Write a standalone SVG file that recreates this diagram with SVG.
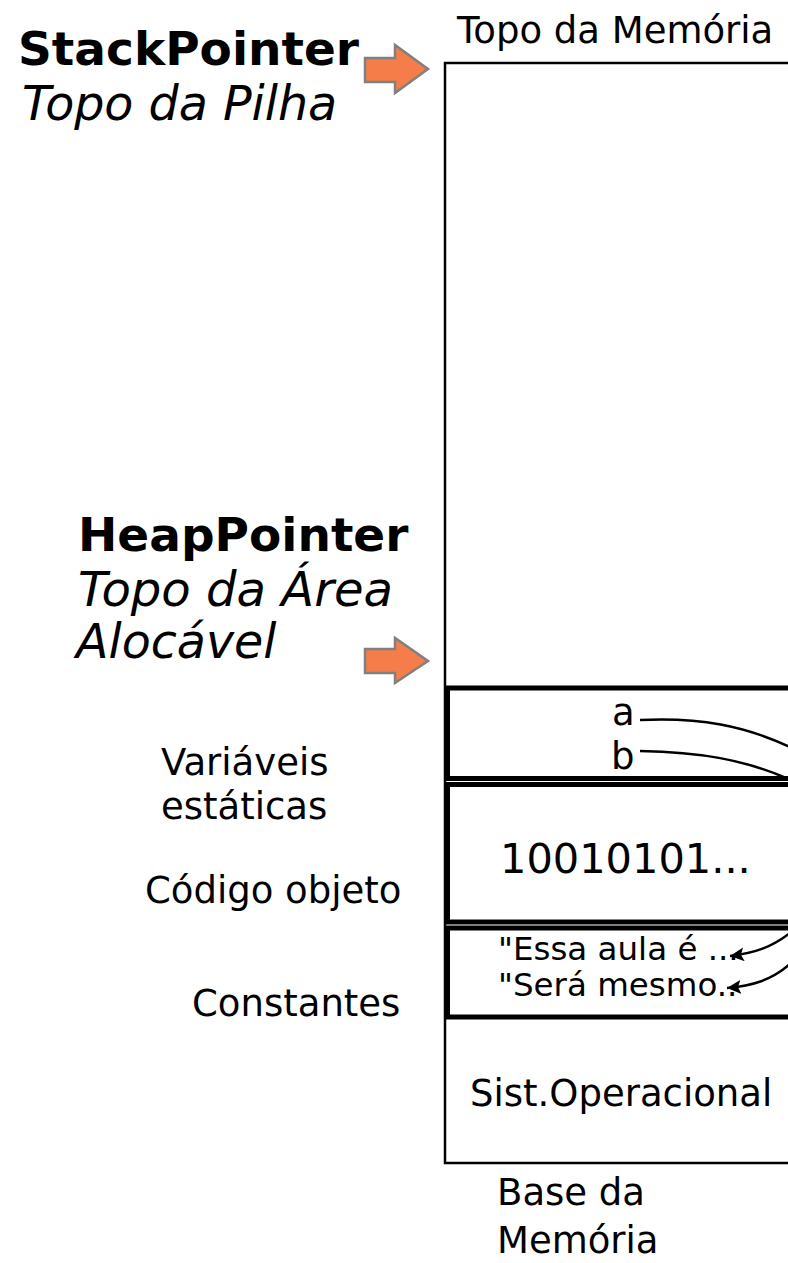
<svg xmlns="http://www.w3.org/2000/svg" width="788" height="1263" viewBox="0 0 788 1263">
<defs>
<style>
text{font-family:"DejaVu Sans","Verdana",sans-serif;fill:#000}
.t36{font-size:37px}
.bold{font-size:47px;font-weight:bold}
.ital{font-size:47.5px;font-style:italic}
.small{font-size:32.5px}
.box{fill:none;stroke:#000;stroke-width:5}
.outer{fill:#fff;stroke:#000;stroke-width:2.5}
.ptr{fill:#F47D4A;stroke:#808080;stroke-width:2.5;stroke-linejoin:miter}
.conn{fill:none;stroke:#000;stroke-width:2.5}
</style>
<marker id="ah" markerUnits="userSpaceOnUse" markerWidth="16" markerHeight="14" refX="14" refY="7" orient="auto">
<path d="M0,0 L14,7 L0,14 L3,7 Z" fill="#000"/>
</marker>
</defs>
<rect width="788" height="1263" fill="#fff"/>

<g id="memory">
<rect class="outer" x="445" y="63" width="400" height="1100"/>
</g>
<g id="static-vars">
<rect class="box" x="447.5" y="688" width="400" height="90.5"/>
<text class="t36" x="612" y="725">a</text>
<text class="t36" x="611" y="769">b</text>
</g>
<g id="object-code">
<rect class="box" x="447.5" y="784.5" width="400" height="137.5"/>
<text x="500" y="873" style="font-size:41.5px">10010101...</text>
</g>
<g id="constants">
<rect class="box" x="447.5" y="928" width="400" height="89"/>
<text class="small" x="498" y="960">"Essa aula é ...</text>
<text class="small" x="498" y="996">"Será mesmo..</text>
</g>
<g id="os">
<text class="t36" x="470" y="1106">Sist.Operacional</text>
</g>

<g id="labels">
<text class="t36" x="457" y="43">Topo da Memória</text>
<text class="t36" x="497" y="1205">Base da</text>
<text class="t36" x="497" y="1253">Memória</text>
<text class="t36" x="161" y="775">Variáveis</text>
<text class="t36" x="161" y="819">estáticas</text>
<text class="t36" x="145" y="903">Código objeto</text>
<text class="t36" x="192" y="1016">Constantes</text>
</g>

<g id="stack-pointer">
<text class="bold" x="18" y="65">StackPointer</text>
<text class="ital" x="22" y="120">Topo da Pilha</text>
<path class="ptr" d="M365,58 L395,58 L395,45 L428,69 L395,93 L395,82 L365,82 Z"/>
</g>
<g id="heap-pointer">
<text class="bold" x="78" y="551">HeapPointer</text>
<text class="ital" x="78" y="606" textLength="315" lengthAdjust="spacingAndGlyphs">Topo da Área</text>
<text class="ital" x="76" y="658">Alocável</text>
<path class="ptr" d="M365,649 L395,649 L395,638 L428,661 L395,683 L395,673 L365,673 Z"/>
</g>

<g id="connectors">
<path class="conn" d="M640,720 C700,717 745,726 790,747"/>
<path class="conn" d="M640,751 C700,752 745,760 786,778"/>
<path class="conn" d="M790,933 C772,947 755,953 730,956" marker-end="url(#ah)"/>
<path class="conn" d="M790,964 C772,980 752,986 727,988" marker-end="url(#ah)"/>
</g>
</svg>
